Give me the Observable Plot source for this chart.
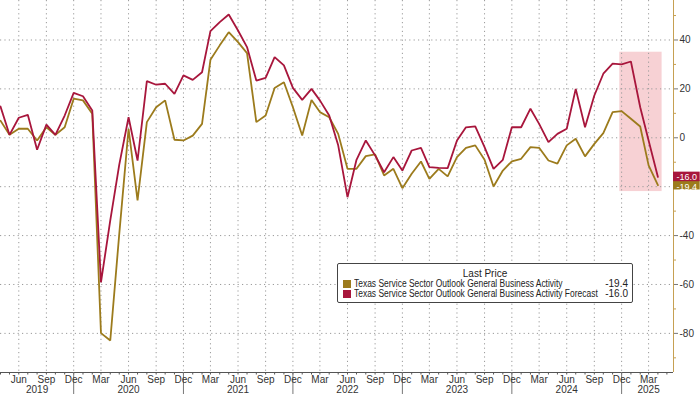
<!DOCTYPE html>
<html><head><meta charset="utf-8">
<script src="https://cdn.jsdelivr.net/npm/d3@7"></script>
<script src="https://cdn.jsdelivr.net/npm/@observablehq/plot@0.6"></script>
<style>
html,body{margin:0;padding:0;background:#fff;}
#wrap{position:relative;width:700px;height:394px;overflow:hidden;font-family:"Liberation Sans",Arial,sans-serif;}
#legend{position:absolute;left:337px;top:263px;width:294px;height:38px;border:1px solid #444;border-radius:2px;background:#fff;font-size:10px;color:#222;line-height:10px;white-space:nowrap;}
#legend .title{position:absolute;top:5px;left:0;width:100%;text-align:center;}
#legend .row{position:absolute;left:0;right:0;height:10px;}
#legend .sw{position:absolute;left:5px;top:1px;width:8px;height:8px;}
#legend .lab{position:absolute;left:16px;top:0;transform:scaleX(0.845);transform-origin:0 0;}
#legend .val{position:absolute;right:4px;top:0;}
</style>
</head><body>
<div id="wrap"><div id="chart"></div>
<div id="legend"></div>
</div>
<script>
// ---- data ----
const startDate = Date.UTC(2019, 3, 1);   // Apr 2019
const endDate = Date.UTC(2025, 4, 1);     // exclusive (through Apr 2025)
const seriesNames = [
  "Texas Service Sector Outlook General Business Activity",
  "Texas Service Sector Outlook General Business Activity Forecast"
];
const seriesColors = ["#9c7b1c", "#a8163c"];
const activity = [
  7.0, 1.2, 3.7, 3.7, -1.1, 4.3, 1.2, 4.3, 16.0,
  15.3, 9.8, -79.9, -82.9, -39.3, 3.7, -25.6, 6.4, 12.5, 15.3, -0.8, -1.1,
  0.9, 5.7, 31.9, 37.8, 43.2, 39.1, 34.6, 6.4, 9.1, 20.4, 22.7, 12.5,
  0.9, 15.5, 10.5, 8.4, 1.6, -12.7, -12.7, -7.5, -6.8, -15.4, -12.7, -20.6,
  -14.7, -9.7, -16.8, -12.7, -15.8, -7.9, -4.1, -3.1, -9.0, -19.9, -13.4, -9.6,
  -8.6, -3.8, -4.1, -9.3, -10.6, -3.1, -0.4, -7.6, -2.5, 1.9, 10.5, 10.9,
  7.8, 4.6, -11.3, -19.4
];
const forecast = [
  12.8, 1.2, 8.2, 9.4, -4.9, 5.4, 1.2, 9.1, 18.4,
  17.0, 11.2, -59.1, -33.8, -11.0, 8.4, -9.3, 23.2, 21.7, 22.1, 18.0, 25.5,
  23.7, 26.8, 43.6, 47.3, 50.4, 43.9, 37.1, 23.4, 24.5, 33.0, 29.6, 20.4,
  15.5, 20.0, 15.3, 9.1, -3.1, -24.3, -9.0, -1.1, -7.2, -14.1, -7.9, -13.4,
  -5.2, -4.1, -12.0, -12.3, -12.4, -1.1, 4.3, 4.7, -3.8, -12.7, -9.0, 4.3,
  4.3, 11.9, 5.7, -1.8, 1.6, 3.7, 20.0, 4.3, 17.3, 26.2, 30.3, 30.0,
  31.2, 12.5, -1.1, -16.0
];
const yTicks = [40, 20, 0, -20, -40, -60, -80];
const yMinorTicks = [50, 30, 10, -10, -30, -50, -70, -90];
const lastValues = [-19.4, -16.0];
const highlight = {x1: Date.UTC(2024, 10, 25), x2: Date.UTC(2025, 3, 15), y1: -22, y2: 35};

// ---- build ----
const months = d3.utcMonth.range(startDate, endDate);
const rows = months.flatMap((d, i) => [
  {date: d, value: activity[i], series: seriesNames[0]},
  {date: d, value: forecast[i], series: seriesNames[1]}
]);
const xDomain = [new Date(startDate), new Date(Date.UTC(2025, 4, 23))];
const yDomain = [-96, 56.15];
const allMonths = d3.utcMonth.range(new Date(startDate), xDomain[1]);
const quarterMonths = allMonths.filter(d => [2, 5, 8, 11].includes(d.getUTCMonth()));
const decMonths = allMonths.filter(d => d.getUTCMonth() === 11);
const yearMid = [2019, 2020, 2021, 2022, 2023, 2024, 2025].map(y =>
  y === 2019 ? new Date(Date.UTC(2019, 7, 1)) : y === 2025 ? new Date(Date.UTC(2025, 2, 1)) : new Date(Date.UTC(y, 5, 1)));
const xEnd = xDomain[1];
const boxEnd = new Date(Date.UTC(2025, 7, 20));
const tags = lastValues.map((v, i) => ({v, i}));
// the -20 label sits under the last-value tags, as in the original
const hiddenLabels = new Set(lastValues.map(v => Math.round(v / 20) * 20));

const font = '"Liberation Sans",Arial,sans-serif';
const chart = Plot.plot({
  width: 700, height: 394,
  marginLeft: 0, marginRight: 27, marginTop: 0, marginBottom: 22,
  style: {fontFamily: font, fontSize: "10px", color: "#333", background: "#fff", overflow: "visible"},
  x: {type: "utc", domain: xDomain},
  y: {domain: yDomain},
  marks: [
    Plot.rect([highlight], {x1: "x1", x2: "x2", y1: "y1", y2: "y2", fill: "#f6c9cc", fillOpacity: 0.85}),
    Plot.ruleY(yTicks, {stroke: "#9a9a9a", strokeDasharray: "1.2,3.2", strokeWidth: 1}),
    Plot.ruleX(quarterMonths, {stroke: "#9a9a9a", strokeDasharray: "1.2,3.2", strokeWidth: 1}),
    Plot.line(rows, {x: "date", y: "value", z: "series", stroke: "series", strokeWidth: 1.8, strokeLinejoin: "miter"}),
    Plot.ruleX([xEnd], {stroke: "#c6a052", strokeWidth: 1}),
    Plot.ruleY([yDomain[0]], {stroke: "#555", strokeWidth: 1}),
    // bottom axis: month ticks, quarter labels, year separators, year labels
    Plot.axisX({ticks: allMonths, tickSize: 2.5, tickFormat: () => "", stroke: "#555"}),
    Plot.axisX({ticks: decMonths, tickSize: 22, tickFormat: () => "", stroke: "#777"}),
    Plot.axisX({ticks: quarterMonths, tickSize: 0, tickPadding: 3, tickFormat: d3.utcFormat("%b"), fill: "#333"}),
    Plot.axisX({ticks: yearMid, tickSize: 0, tickPadding: 13, tickFormat: d3.utcFormat("%Y"), fill: "#333"}),
    // right axis
    Plot.axisY({anchor: "right", ticks: yMinorTicks, tickSize: 2, tickFormat: () => "", stroke: "#c6a052"}),
    Plot.axisY({anchor: "right", ticks: yTicks, tickSize: 4, tickPadding: 2, stroke: "#777", fill: "#333",
      tickFormat: d => hiddenLabels.has(d) ? "" : d < 0 ? "-" + Math.abs(d) : String(d)}),
    // last value tags
    Plot.rect(tags.slice(0, 1), {
      x1: () => xEnd, x2: () => boxEnd,
      y1: d => d.v - 1.95, y2: d => d.v + 1.95,
      fill: d => seriesColors[d.i]
    }),
    Plot.text(tags.slice(0, 1), {
      x: () => xEnd, y: d => d.v, text: d => d.v.toFixed(1),
      textAnchor: "start", dx: 3, dy: 1.5, fill: "#fff", fontSize: 9
    }),
    Plot.rect(tags.slice(1), {
      x1: () => xEnd, x2: () => boxEnd,
      y1: d => d.v - 1.95, y2: d => d.v + 1.95,
      fill: d => seriesColors[d.i]
    }),
    Plot.text(tags.slice(1), {
      x: () => xEnd, y: d => d.v, text: d => d.v.toFixed(1),
      textAnchor: "start", dx: 3, fill: "#fff", fontSize: 9
    })
  ],
  color: {domain: seriesNames, range: seriesColors}
});
document.getElementById("chart").appendChild(chart);

// legend
const lg = document.getElementById("legend");
lg.innerHTML = '<div class="title">Last Price</div>' + seriesNames.map((n, i) =>
  `<div class="row" style="top:${15 + i * 10}px"><span class="sw" style="background:${seriesColors[i]}"></span><span class="lab">${n}</span><span class="val">${lastValues[i].toFixed(1)}</span></div>`
).join("");
</script>
</body></html>
